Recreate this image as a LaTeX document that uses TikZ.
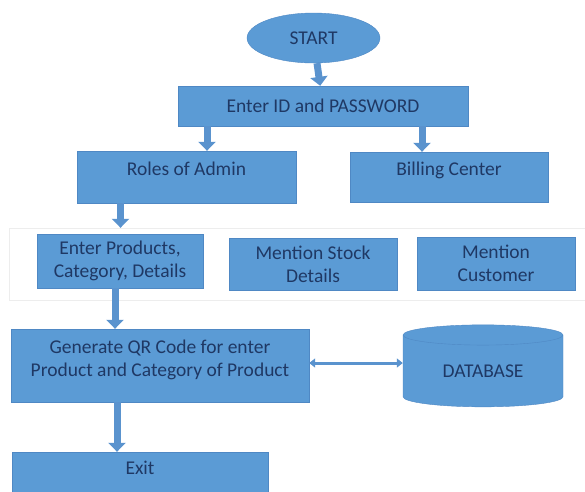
\documentclass[tikz,border=0pt]{standalone}
\usepackage{fontspec}
\setmainfont{Carlito}
\usepackage{xcolor}
\usetikzlibrary{shapes,shapes.geometric,arrows.meta,positioning}

\definecolor{boxblue}{HTML}{5B9BD5}
\definecolor{boxline}{HTML}{4F88C4}
\definecolor{boxtext}{HTML}{1F3864}
\definecolor{arrowblue}{HTML}{5A93CE}

\begin{document}
\begin{tikzpicture}[
        x=1pt, y=-1pt,
        every node/.style={font=\fontsize{19.5}{23}\selectfont, text=boxtext, inner sep=0pt, align=center},
        box/.style={draw=boxline, fill=boxblue, rectangle},
        flow/.style={draw=arrowblue, line width=7pt, -{Triangle[width=17pt,length=9pt]}},
        link/.style={draw=arrowblue, line width=3pt, {Triangle[width=9pt,length=6pt]}-{Triangle[width=9pt,length=6pt]}}
    ]
    \useasboundingbox (0,0) rectangle (585,491);

    % Nodes
    \node[draw=boxline, fill=boxblue, ellipse, minimum width=133pt, minimum height=50pt] (start) at (313.5,38) {START};
    \node[box, minimum width=290pt, minimum height=40pt] (login) at (323,106) {Enter ID and PASSWORD};
    \node[box, minimum width=219pt, minimum height=52pt, text depth=16pt] (roles) at (186.5,177) {Roles of Admin};
    \node[box, minimum width=198pt, minimum height=50pt, text depth=16pt] (billing) at (449,177) {Billing Center};

    \node[draw=black!7, fill=white, minimum width=581pt, minimum height=72pt] (band) at (299.5,264) {};
    \node[box, minimum width=166pt, minimum height=54pt] (products) at (120,261) {Enter Products,\\Category, Details};
    \node[box, minimum width=168pt, minimum height=52pt] (stock) at (313,264) {Mention Stock\\Details};
    \node[box, minimum width=158pt, minimum height=53pt] (customer) at (496,263.5) {Mention\\Customer};

    \node[box, minimum width=298pt, minimum height=73pt] (qrcode) at (160,365.5) {Generate QR Code for enter\\Product and Category of Product\\[-9pt]\mbox{}};
    \node[draw=boxline, fill=boxblue, cylinder, shape border rotate=90, aspect=0.25, minimum width=160pt, minimum height=82pt] (db) at (483,371) {DATABASE};
    \node[box, minimum width=256pt, minimum height=48pt, text depth=16pt] (exit) at (140,476) {Exit};

    % Edges
    \draw[flow] (start) -- (login);
    \draw[flow] ([xshift=20.5pt]roles.north |- login.south) -- ([xshift=20.5pt]roles.north);
    \draw[flow] ([xshift=-27pt]billing.north |- login.south) -- ([xshift=-27pt]billing.north);
    \draw[flow] ([xshift=0.5pt]roles.south -| products.north) -- ([xshift=0.5pt]band.north -| products.north);
    \draw[flow] ([xshift=-5pt]products.south) -- ([xshift=-5pt]products.south |- qrcode.north);
    \draw[flow] ([xshift=-23pt]qrcode.south -| exit.north) -- ([xshift=-23pt]exit.north);
    \draw[link] ([yshift=2.5pt]qrcode.east) -- ([yshift=2.5pt]qrcode.east -| db.west);

\end{tikzpicture}
\end{document}
